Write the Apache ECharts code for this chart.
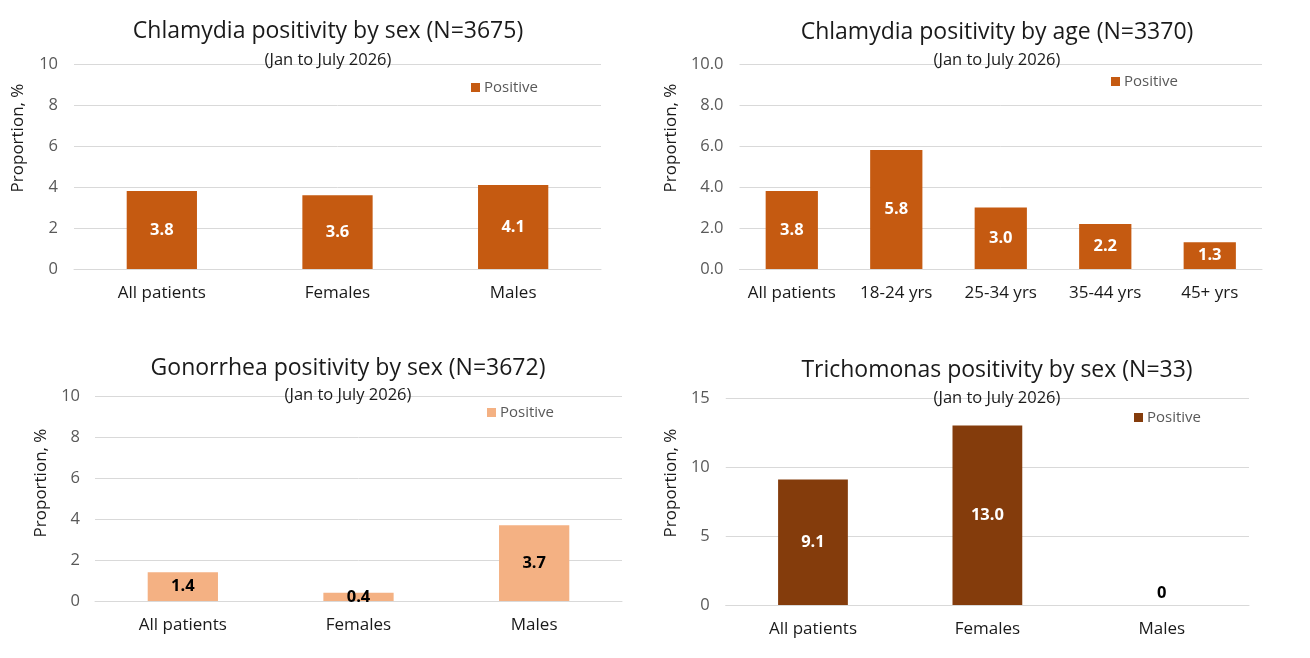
<!DOCTYPE html>
<html>
<head>
<meta charset="utf-8">
<script src="https://cdn.jsdelivr.net/npm/echarts@6/dist/echarts.min.js"></script>
<style>
html,body{margin:0;padding:0;background:#fff;}
.q{position:absolute;width:655px;height:329px;}
</style>
</head>
<body>
<div id="c1" class="q" style="left:0;top:0"></div>
<div id="c2" class="q" style="left:655px;top:0"></div>
<div id="c3" class="q" style="left:0;top:329px"></div>
<div id="c4" class="q" style="left:655px;top:329px"></div>
<script>
// ---- data ----
const sexCategories = ['All patients', 'Females', 'Males'];
const ageCategories = ['All patients', '18-24 yrs', '25-34 yrs', '35-44 yrs', '45+ yrs'];
const chlamydiaSexValues = [3.8, 3.6, 4.1];
const chlamydiaAgeValues = [3.8, 5.8, 3.0, 2.2, 1.3];
const gonorrheaSexValues = [1.4, 0.4, 3.7];
const trichomonasSexValues = [9.1, 13.0, 0];
const titles = [
  'Chlamydia positivity by sex (N=3675)',
  'Chlamydia positivity by age (N=3370)',
  'Gonorrhea positivity by sex (N=3672)',
  'Trichomonas positivity by sex (N=33)'
];
const subtitle = '(Jan to July 2026)';
const seriesName = 'Positive';
const yAxisName = 'Proportion, %';

const FONT = '"Open Sans", "Noto Sans", sans-serif';

function makeChart(el, cfg) {
  const chart = echarts.init(document.getElementById(el), null, {renderer: 'canvas'});
  const data = cfg.values.map(v => v === 0
    ? {value: 0, label: {position: 'top', color: '#000', distance: 3}}
    : v);
  chart.setOption({
    animation: false,
    textStyle: {fontFamily: FONT},
    title: [
      {text: cfg.title, left: cfg.titleX, top: cfg.titleTop, textAlign: 'center', padding: 0,
       textStyle: {fontFamily: FONT, fontSize: 23, fontWeight: 'normal', color: '#1a1a1a'}},
      {text: subtitle, left: cfg.titleX, top: cfg.subTop, textAlign: 'center', padding: 0,
       textStyle: {fontFamily: FONT, fontSize: 16.5, fontWeight: 'normal', color: '#1a1a1a'}}
    ],
    legend: {
      data: [seriesName], left: cfg.legendLeft, top: cfg.legendTop, padding: 0,
      itemWidth: 9, itemHeight: 9, itemGap: 4, icon: 'rect',
      textStyle: {fontFamily: FONT, fontSize: 15, color: '#595959', padding: [0, 0, 0, -1]}
    },
    grid: {left: cfg.grid[0], right: cfg.grid[1], top: cfg.grid[2], bottom: cfg.grid[3], containLabel: false},
    xAxis: {
      type: 'category', data: cfg.categories,
      axisLine: {lineStyle: {color: '#D9D9D9', width: 1}},
      axisTick: {show: false},
      axisLabel: {fontFamily: FONT, fontSize: 17, color: '#1a1a1a', margin: 16, interval: 0}
    },
    yAxis: {
      type: 'value', min: 0, max: cfg.max, interval: cfg.interval,
      name: yAxisName, nameLocation: 'middle', nameGap: cfg.nameGap, nameRotate: 90,
      nameTextStyle: {fontFamily: FONT, fontSize: 17, color: '#1a1a1a', padding: [0, 0, 0, cfg.namePad]},
      axisLine: {show: false}, axisTick: {show: false},
      axisLabel: {fontFamily: FONT, fontSize: 16.5, color: '#595959', margin: cfg.labelMargin,
        formatter: v => cfg.decimals ? v.toFixed(1) : String(v)},
      splitLine: {lineStyle: {color: '#D9D9D9', width: 1}}
    },
    series: [{
      name: seriesName, type: 'bar', data: data, barWidth: cfg.barWidth,
      itemStyle: {color: cfg.color},
      label: {show: true, position: 'inside', fontFamily: FONT, fontSize: 16.5, fontWeight: 'bold',
        color: cfg.labelColor,
        formatter: p => p.value === 0 ? '0' : (cfg.labelDecimals ? p.value.toFixed(1) : String(p.value))}
    }]
  });
}

makeChart('c1', {
  title: titles[0], titleX: 328, titleTop: 20, subTop: 52,
  legendLeft: 471, legendTop: 80,
  grid: [74, 54, 64, 60], categories: sexCategories, values: chlamydiaSexValues,
  max: 10, interval: 2, decimals: false, nameGap: 47, namePad: 57, labelMargin: 16,
  barWidth: '40%', color: '#C55A11', labelColor: '#fff', labelDecimals: true
});
makeChart('c2', {
  title: titles[1], titleX: 342, titleTop: 21, subTop: 52,
  legendLeft: 456, legendTop: 74,
  grid: [81, 48, 64, 60], categories: ageCategories, values: chlamydiaAgeValues,
  max: 10, interval: 2, decimals: true, nameGap: 58, namePad: 57, labelMargin: 16,
  barWidth: '50%', color: '#C55A11', labelColor: '#fff', labelDecimals: true
});
makeChart('c3', {
  title: titles[2], titleX: 348, titleTop: 28, subTop: 58,
  legendLeft: 487, legendTop: 76,
  grid: [95, 33, 67, 57], categories: sexCategories, values: gonorrheaSexValues,
  max: 10, interval: 2, decimals: false, nameGap: 45, namePad: 31, labelMargin: 15,
  barWidth: '40%', color: '#F4B183', labelColor: '#000', labelDecimals: true
});
makeChart('c4', {
  title: titles[3], titleX: 342, titleTop: 30, subTop: 61,
  legendLeft: 479, legendTop: 81,
  grid: [68, 61, 69, 53], categories: sexCategories, values: trichomonasSexValues,
  max: 15, interval: 5, decimals: false, nameGap: 44, namePad: 37, labelMargin: 16,
  barWidth: '40%', color: '#843C0C', labelColor: '#fff', labelDecimals: true
});
</script>
</body>
</html>
